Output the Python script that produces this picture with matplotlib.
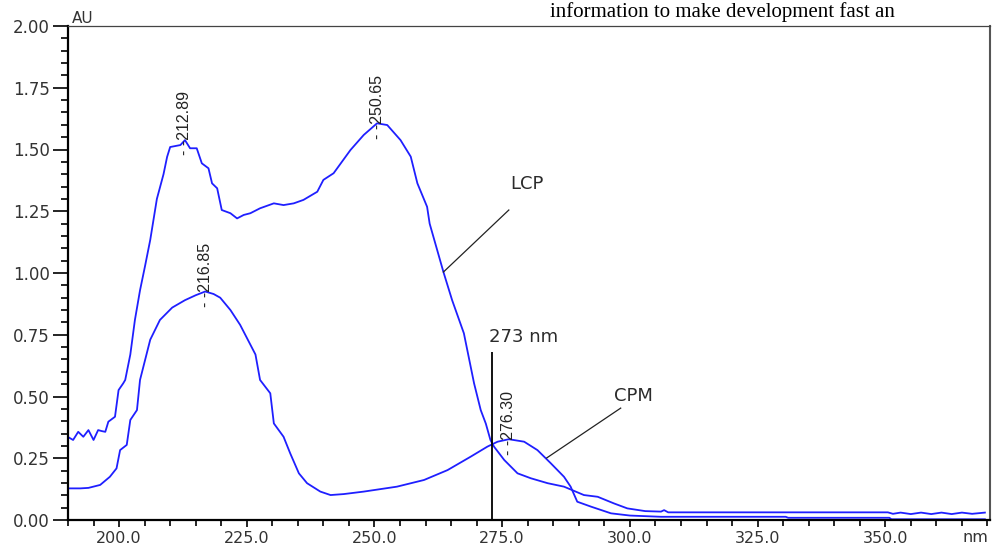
import matplotlib.pyplot as plt
from matplotlib.ticker import MultipleLocator, FormatStrFormatter

# LCP spectrum (nm, AU)
lcp_nm = [190.0, 191.0, 192.0, 193.0, 194.0, 195.0, 195.9, 196.6, 197.3, 197.9,
          199.2, 199.9, 200.8, 201.2, 202.2, 203.1, 204.1, 205.1, 206.1, 207.4,
          208.7, 209.4, 210.0, 212.0, 212.9, 213.9, 215.2, 216.2, 217.5, 218.2,
          219.2, 220.1, 221.8, 223.1, 224.4, 225.7, 227.6, 230.3, 232.2, 234.2,
          236.1, 238.8, 240.0, 242.0, 245.3, 247.9, 250.5, 252.5, 255.1, 257.1,
          258.4, 260.3, 260.8, 263.5, 265.2, 267.5, 269.5, 270.8, 271.8, 272.7,
          273.4, 275.4, 278.0, 280.6, 283.9, 287.1, 291.0, 293.7, 296.9, 299.5,
          303.0, 306.1, 306.7, 307.5, 350.5, 351.5, 353.0, 355.0, 357.0, 359.0,
          361.0, 363.0, 365.0, 367.0, 369.5]
lcp_au = [0.336, 0.324, 0.357, 0.337, 0.364, 0.324, 0.364, 0.360, 0.357, 0.398,
          0.418, 0.526, 0.553, 0.567, 0.670, 0.810, 0.930, 1.030, 1.134, 1.300,
          1.400, 1.470, 1.510, 1.518, 1.538, 1.505, 1.505, 1.444, 1.424, 1.363,
          1.343, 1.255, 1.242, 1.221, 1.235, 1.242, 1.262, 1.282, 1.275, 1.282,
          1.296, 1.329, 1.377, 1.404, 1.498, 1.559, 1.606, 1.599, 1.538, 1.471,
          1.363, 1.268, 1.200, 1.004, 0.890, 0.756, 0.553, 0.445, 0.390, 0.324,
          0.297, 0.243, 0.189, 0.169, 0.149, 0.135, 0.101, 0.094, 0.067, 0.047,
          0.036, 0.034, 0.040, 0.031, 0.031, 0.025, 0.030, 0.024, 0.030, 0.024,
          0.030, 0.024, 0.030, 0.025, 0.030]

# CPM spectrum
cpm_nm = [190.1, 192.4, 194.0, 196.3, 198.2, 199.5, 200.2, 201.5, 202.2, 203.5,
          204.1, 206.1, 208.0, 210.4, 212.9, 215.0, 216.85, 218.5, 219.8, 221.8,
          223.7, 225.7, 226.7, 227.6, 229.6, 230.3, 232.2, 233.5, 235.2, 236.8,
          239.4, 241.4, 244.0, 247.9, 254.4, 259.7, 264.3, 268.8, 272.1, 274.1,
          276.3, 279.3, 281.9, 284.5, 287.1, 288.4, 289.7, 292.4, 296.3, 300.0,
          306.1, 330.5, 331.0, 350.8, 351.2, 369.5]
cpm_au = [0.128, 0.128, 0.130, 0.142, 0.175, 0.209, 0.283, 0.304, 0.405, 0.445,
          0.567, 0.730, 0.810, 0.860, 0.890, 0.910, 0.925, 0.915, 0.900, 0.850,
          0.790, 0.710, 0.670, 0.567, 0.513, 0.391, 0.337, 0.270, 0.189, 0.149,
          0.115, 0.101, 0.105, 0.115, 0.135, 0.162, 0.202, 0.256, 0.297, 0.317,
          0.327, 0.317, 0.283, 0.230, 0.175, 0.135, 0.074, 0.054, 0.027, 0.018,
          0.013, 0.013, 0.009, 0.009, 0.003, 0.003]

peak_nm = [212.89, 250.65, 216.85, 276.30]
peak_au = [1.538, 1.606, 0.925, 0.327]
marker_nm = 273

text_color = "#2b2b2b"
trace_color = "#1f1fff"

fig = plt.figure(figsize=(9.93, 5.47), dpi=100)
ax = fig.add_axes([68 / 993, 27 / 547, 922 / 993, 494 / 547])

ax.plot(lcp_nm, lcp_au, color=trace_color, lw=1.3)
ax.plot(cpm_nm, cpm_au, color=trace_color, lw=1.3)

ax.set_xlim(190, 370.5)
ax.set_ylim(0, 2)

ax.xaxis.set_major_locator(MultipleLocator(25))
ax.xaxis.set_minor_locator(MultipleLocator(5))
ax.yaxis.set_major_locator(MultipleLocator(0.25))
ax.yaxis.set_minor_locator(MultipleLocator(0.05))
ax.xaxis.set_major_formatter(FormatStrFormatter("%.1f"))
ax.yaxis.set_major_formatter(FormatStrFormatter("%.2f"))
ax.tick_params(axis="y", which="major", length=11, width=1.2, pad=2,
               labelsize=12, labelcolor="#333333")
ax.tick_params(axis="y", which="minor", length=5, width=1.2)
ax.tick_params(axis="x", which="major", length=5, width=1.2, pad=3,
               labelsize=11.5, labelcolor="#333333")
ax.tick_params(axis="x", which="minor", length=4, width=1.2)

for side in ["left", "bottom"]:
    ax.spines[side].set_linewidth(1.6)
ax.spines["top"].set_linewidth(0.9)
ax.spines["top"].set_color("#444444")
ax.spines["right"].set_linewidth(1.5)
ax.spines["right"].set_color("#555555")

# peak wavelength labels
for nm, au in zip(peak_nm, peak_au):
    ax.annotate(f"- -{nm:.2f}", xy=(nm, au), xytext=(0, -11),
                textcoords="offset points", rotation=90, ha="center",
                va="bottom", fontsize=11.5, family="Liberation Sans",
                color="#222222")

# isosbestic wavelength marker
ax.vlines(marker_nm, 0, 0.68, color="black", lw=1.3)
ax.text(279.2, 0.741, f"{marker_nm} nm", ha="center", va="center",
        fontsize=13, color=text_color)

# curve callouts
ax.text(279.8, 1.36, "LCP", ha="center", va="center", fontsize=13, color=text_color)
ax.plot([276.3, 263.5], [1.255, 1.004], color="#222222", lw=0.9)
ax.text(300.6, 0.502, "CPM", ha="center", va="center", fontsize=13, color=text_color)
ax.plot([298.2, 283.7], [0.453, 0.251], color="#222222", lw=0.9)

fig.text(72 / 993, 1 - 23 / 547, "AU", fontsize=11, color="#333333", va="baseline")
fig.text(975 / 993, 1 - 530 / 547, "nm", fontsize=11.5, color="#333333",
         ha="center", va="top")

# stray line of document text above the figure
fig.text(550 / 993, 1 - 17 / 547, "information to make development fast an",
         fontsize=15, family="Liberation Serif", color="black", va="baseline")

fig.savefig("out.png", dpi=100)
